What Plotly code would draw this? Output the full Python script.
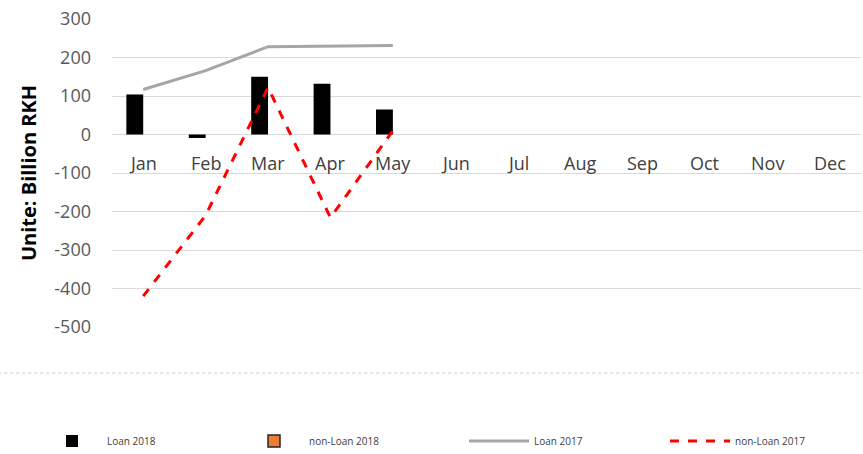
import plotly.graph_objects as go

months = ["Jan", "Feb", "Mar", "Apr", "May", "Jun", "Jul", "Aug", "Sep", "Oct", "Nov", "Dec"]
loan_2018 = [104, -9, 150, 132, 65, None, None, None, None, None, None, None]
non_loan_2018 = [None] * 12
loan_2017 = [117, 166, 228, 229, 231, None, None, None, None, None, None, None]
non_loan_2017 = [-420, -210, 122, -216, 10, None, None, None, None, None, None, None]
y_ticks = [300, 200, 100, 0, -100, -200, -300, -400, -500]

FONT = "Open Sans"
W, H = 863, 454

fig = go.Figure()
fig.add_trace(go.Bar(
    x=months, y=loan_2018, name="Loan 2018", legend="legend",
    marker=dict(color="#000000", line=dict(width=0)),
))
fig.add_trace(go.Bar(
    x=months, y=non_loan_2018, name="non-Loan 2018", legend="legend2",
    marker=dict(color="#ed7d31", line=dict(color="#262626", width=1.5)),
))
fig.add_trace(go.Scatter(
    x=months, y=loan_2017, name="Loan 2017", mode="lines", legend="legend3",
    line=dict(color="#a6a6a6", width=3),
))
fig.add_trace(go.Scatter(
    x=months, y=non_loan_2017, name="non-Loan 2017", mode="lines", legend="legend4",
    line=dict(color="#ff0000", width=3, dash="dash"),
))

# month labels sit just under the zero line, like the original
annotations = [
    dict(x=m, y=-75, xref="x", yref="y", text=m, showarrow=False,
         font=dict(family=FONT, size=18, color="#404040"))
    for m in months
]


def legend_at(px):
    return dict(
        orientation="h", xref="container", yref="container",
        x=px / W, y=1 - 441 / H, xanchor="left", yanchor="middle",
        itemwidth=60, font=dict(family=FONT, size=10, color="#404040"),
    )


fig.update_layout(
    width=W, height=H,
    margin=dict(l=112, r=2, t=19, b=127, autoexpand=False),
    paper_bgcolor="white", plot_bgcolor="white",
    barmode="group", bargap=0.46, bargroupgap=0,
    font=dict(family=FONT, color="#595959"),
    annotations=annotations,
    showlegend=True,
    legend=legend_at(37),
    legend2=legend_at(239),
    legend3=legend_at(464),
    legend4=legend_at(665),
    shapes=[dict(
        type="line", xref="paper", yref="paper",
        x0=-0.16, x1=1.01, y0=-0.149, y1=-0.149,
        line=dict(color="#d9d9d9", width=1.5, dash="dot"),
    )],
)
fig.update_xaxes(showticklabels=False, showgrid=False, zeroline=False,
                 showline=False, ticks="")
fig.update_yaxes(
    range=[-500, 300], tickvals=y_ticks, ticktext=[str(v) for v in y_ticks],
    showgrid=True, gridcolor="#d9d9d9", automargin=False,
    gridwidth=1, zeroline=True, zerolinecolor="#d9d9d9", zerolinewidth=1,
    showline=False, ticks="", ticklabelstandoff=20,
    tickfont=dict(family=FONT, size=18, color="#595959"),
    title=dict(text="<b>Unite: Billion RKH</b>", standoff=12,
               font=dict(family=FONT, size=20, color="#000000")),
)

# drop the browser's default body margin so the figure fills the window
fig.write_html("out.html", config={"displayModeBar": False},
               post_script="document.body.style.margin = '0';")
